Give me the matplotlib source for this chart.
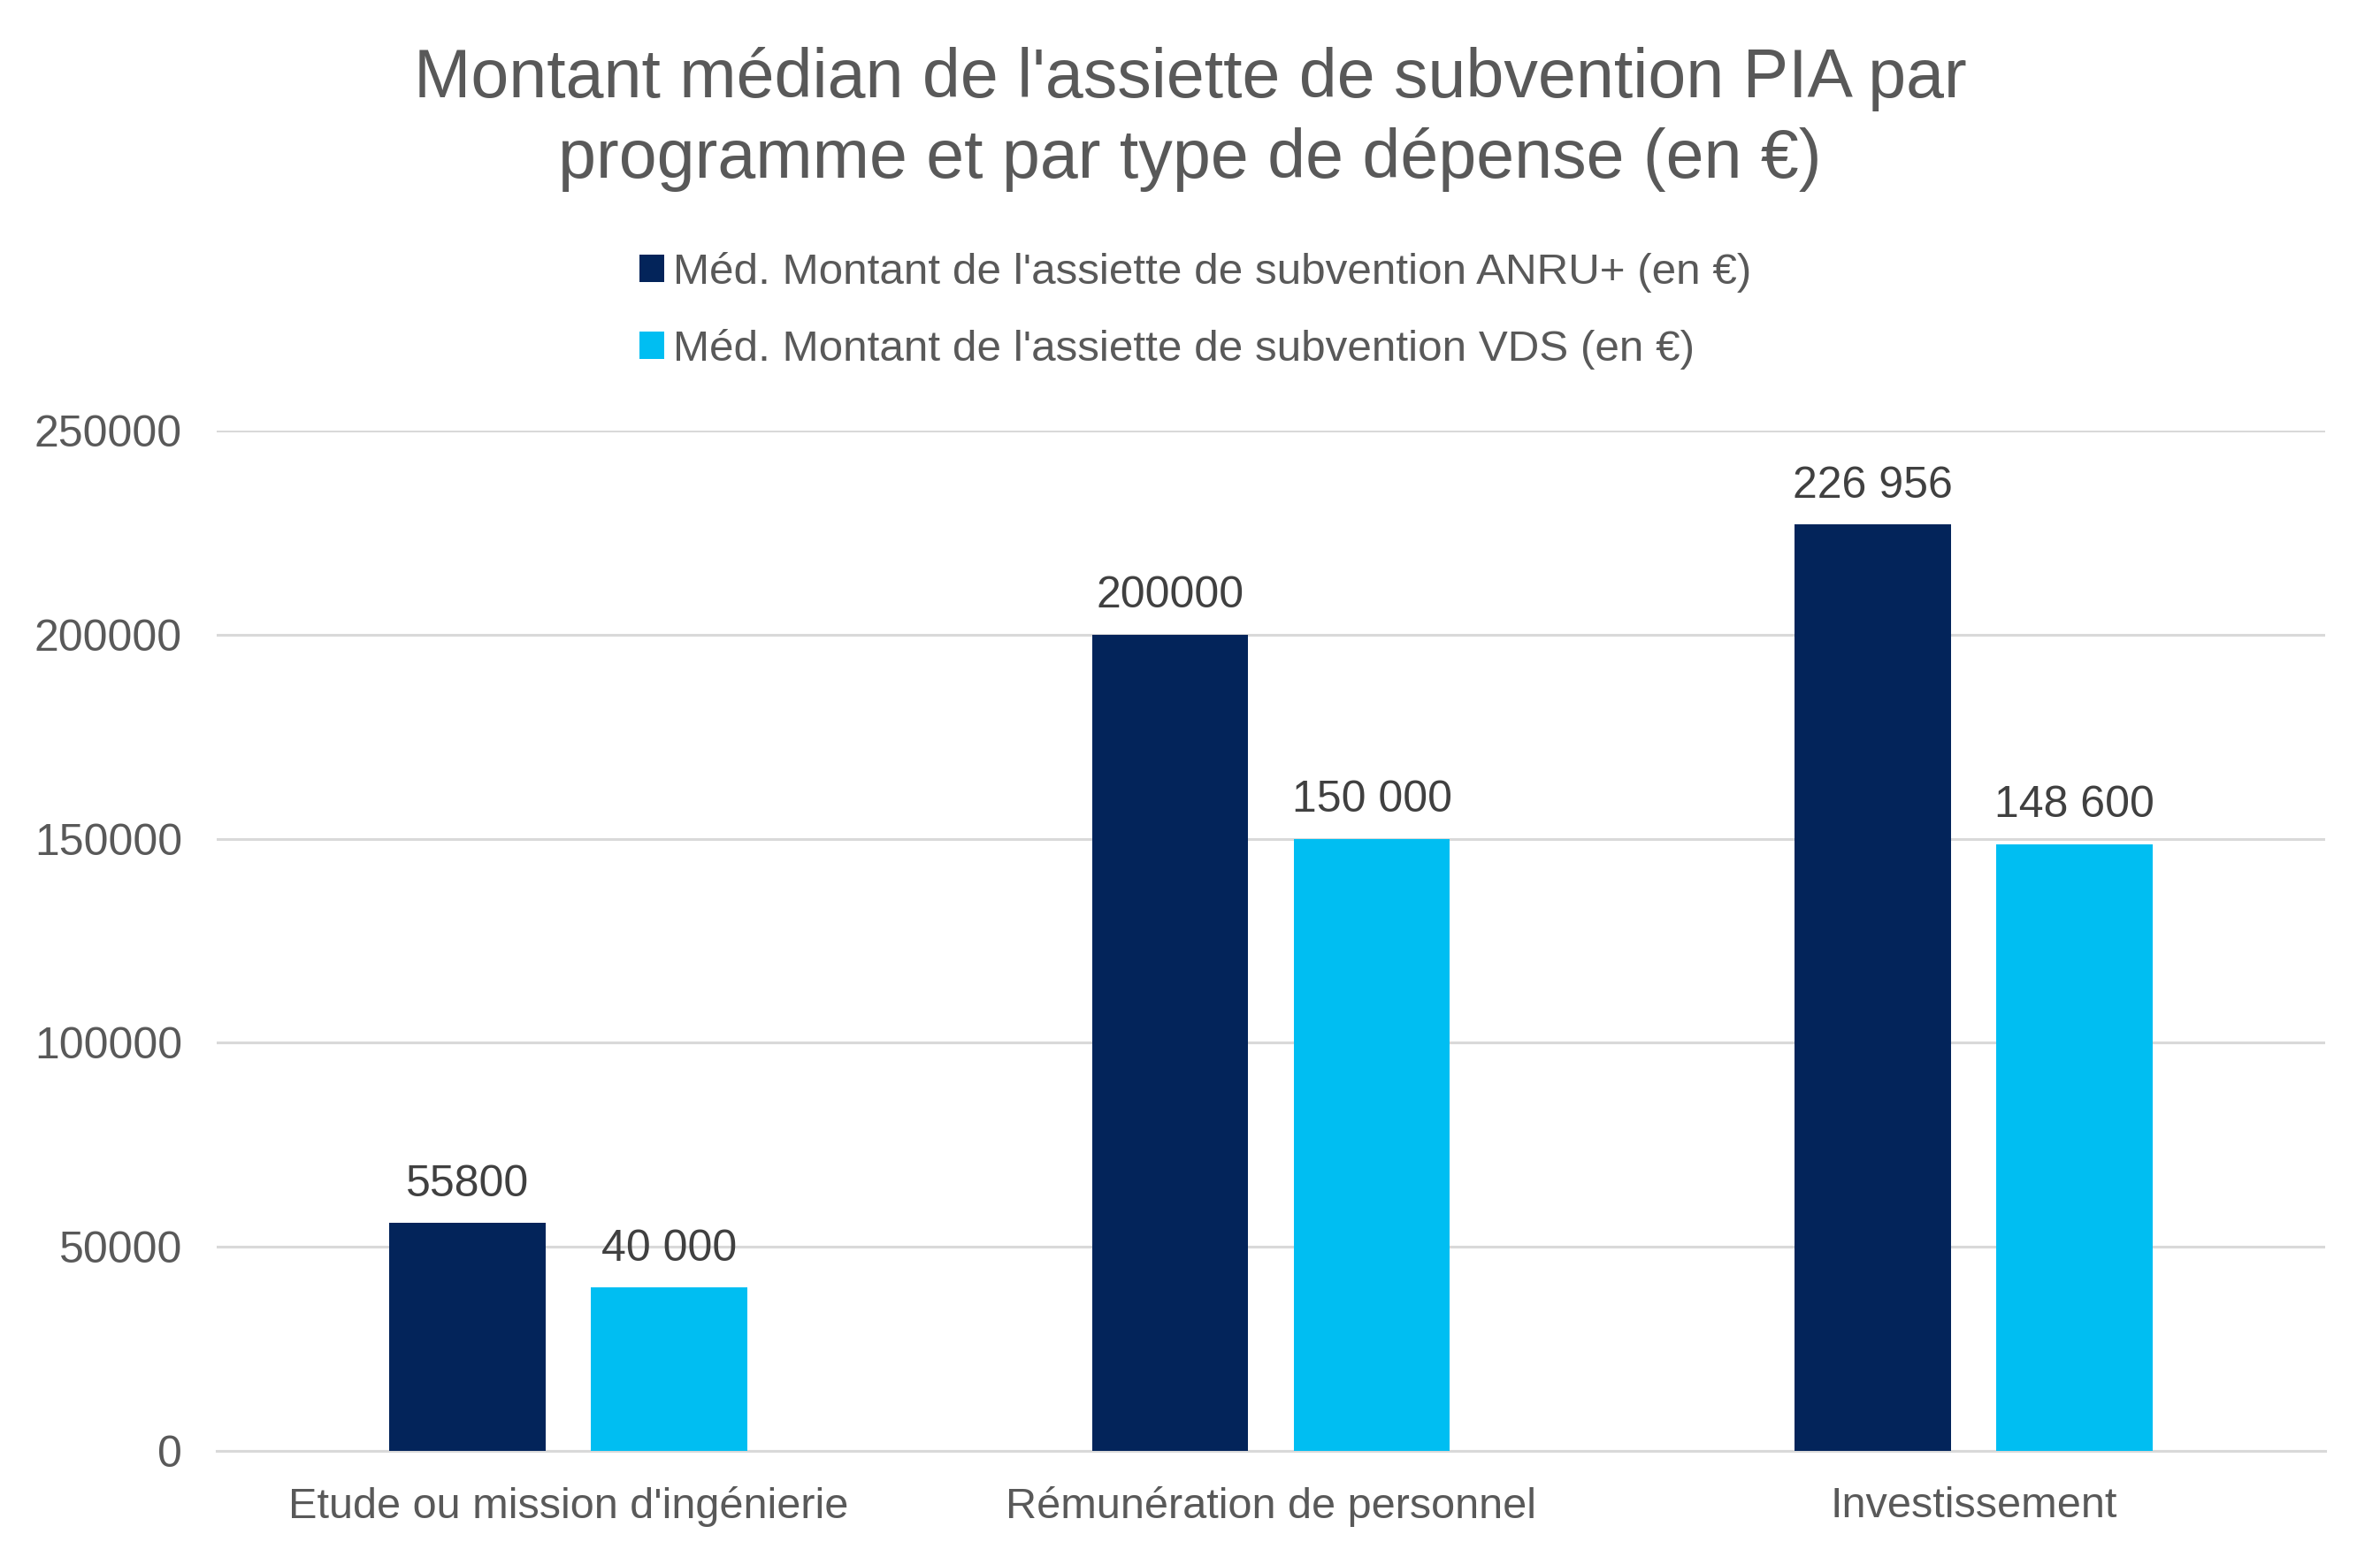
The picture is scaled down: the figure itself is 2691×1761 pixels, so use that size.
import matplotlib
matplotlib.use("Agg")
import matplotlib.pyplot as plt
import numpy as np

categories = ["Etude ou mission d'ingénierie", "Rémunération de personnel", "Investissement"]
anru_values = [55800, 200000, 226956]
vds_values = [40000, 150000, 148600]
anru_labels = ["55800", "200000", "226 956"]
vds_labels = ["40 000", "150 000", "148 600"]
series_names = ["Méd. Montant de l'assiette de subvention ANRU+ (en €)",
                "Méd. Montant de l'assiette de subvention VDS (en €)"]
yticks = [0, 50000, 100000, 150000, 200000, 250000]

plt.rcParams['font.family'] = ['Liberation Sans', 'DejaVu Sans']

W, H = 2691, 1761
fig = plt.figure(figsize=(W / 100, H / 100), dpi=100)
ax = fig.add_axes([245 / W, 120 / H, (2629 - 245) / W, (1641 - 487) / H])

dark = "#03245A"
light = "#00BEF2"
grid_c = "#D9D9D9"
text_c = "#595959"
label_c = "#404040"

x = np.arange(len(categories))
bw = 0.222
off = 0.1435
b1 = ax.bar(x - off, anru_values, bw, color=dark, zorder=3, label=series_names[0])
b2 = ax.bar(x + off, vds_values, bw, color=light, zorder=3, label=series_names[1])

for bars, labs in ((b1, anru_labels), (b2, vds_labels)):
    for r, t in zip(bars, labs):
        ax.annotate(t, (r.get_x() + r.get_width() / 2, r.get_height()),
                    xytext=(0, 15), textcoords="offset points",
                    ha="center", va="bottom", fontsize=36, color=label_c)

ax.set_xlim(-0.5, len(categories) - 0.5)
ax.set_ylim(0, 250000)
ax.set_yticks(yticks)
ax.set_yticklabels([str(v) for v in yticks])
ax.set_xticks(x)
ax.set_xticklabels(categories)
ax.tick_params(axis="y", length=0, pad=28, labelsize=36, labelcolor=text_c)
ax.tick_params(axis="x", length=0, pad=29, labelsize=35, labelcolor=text_c)
ax.yaxis.grid(True, color=grid_c, linewidth=2.2, zorder=0)
ax.set_axisbelow(True)
for s in ("top", "right", "left"):
    ax.spines[s].set_visible(False)
ax.spines["bottom"].set_color(grid_c)
ax.spines["bottom"].set_linewidth(2.2)

fig.text(0.5, 1 - 135 / H, "Montant médian de l'assiette de subvention PIA par\nprogramme et par type de dépense (en €)",
         ha="center", va="center", fontsize=55.5, color=text_c, linespacing=1.3)

leg = fig.legend(handles=[b1, b2], loc="upper left", bbox_to_anchor=(703 / W, 1 - 265 / H),
                 frameon=False, fontsize=35.6, labelcolor=text_c, handlelength=0.58,
                 handleheight=0.58, handletextpad=0.2, labelspacing=0.83, borderaxespad=0)

fig.savefig("out.png", dpi=100, facecolor="white")
